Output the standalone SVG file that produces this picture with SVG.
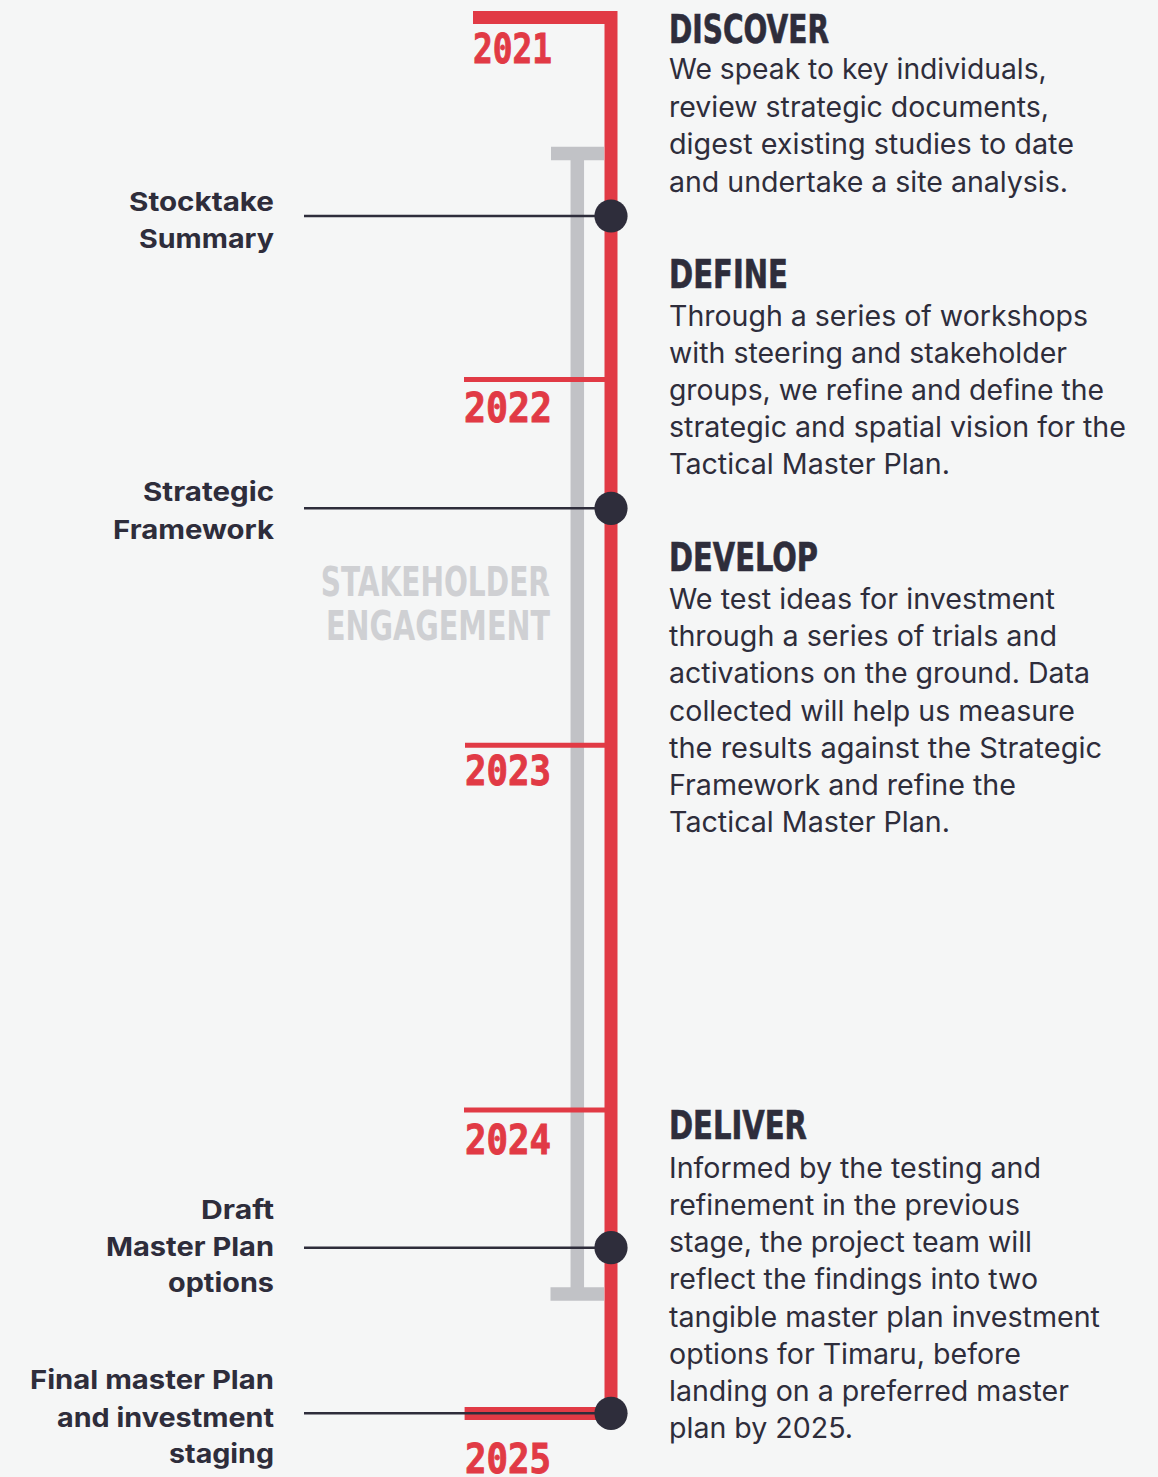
<svg xmlns="http://www.w3.org/2000/svg" width="1158" height="1477" viewBox="0 0 1158 1477">
<defs>
<style>
.bg{fill:#f5f6f6}
.spine{fill:none;stroke:#e13a45;stroke-width:13;stroke-linejoin:miter}
.tick{stroke:#e13a45;stroke-width:5}
.year{font-family:"DejaVu Sans Mono","Liberation Mono",monospace;font-weight:bold;font-size:41px;fill:#e13a45;stroke:#e13a45;stroke-width:0.9}
.gray{fill:none;stroke:#c1c2c6;stroke-width:13.5}
.eng{font-family:"DejaVu Sans Condensed","DejaVu Sans",sans-serif;font-weight:bold;font-size:40px;fill:#cfd0d3}
.head{font-family:"DejaVu Sans Condensed","DejaVu Sans",sans-serif;font-weight:bold;font-size:39px;fill:#2e2d3b;stroke:#2e2d3b;stroke-width:0.6}
.body{font-family:Inter,"Liberation Sans",sans-serif;font-size:28px;fill:#2e2d3b}
.lab{font-family:Inter,"Liberation Sans",sans-serif;font-weight:bold;font-size:26px;fill:#2e2d3b}
.conn{stroke:#2e2d3b;stroke-width:2.4}
.dot{fill:#2e2d3b}
</style>
</defs>
<rect class="bg" x="0" y="0" width="1158" height="1477"/>

<g id="engagement">
<path class="gray" d="M551 153.5 H604 M577.3 153.5 V1294 M550.5 1294 H604"/>
<text class="eng" x="320.7" y="596" textLength="229.3" lengthAdjust="spacingAndGlyphs">STAKEHOLDER</text>
<text class="eng" x="326" y="640" textLength="224" lengthAdjust="spacingAndGlyphs">ENGAGEMENT</text>
</g>

<g id="timeline">
<path class="spine" d="M473 17.5 H611 V1413.4 H464.6"/>
<line class="tick" x1="464" y1="379.4" x2="605" y2="379.4"/>
<line class="tick" x1="465" y1="745.2" x2="605" y2="745.2"/>
<line class="tick" x1="464" y1="1110" x2="605" y2="1110"/>
<text class="year" x="473" y="63" textLength="79" lengthAdjust="spacingAndGlyphs">2021</text>
<text class="year" x="464" y="421.7" textLength="88" lengthAdjust="spacingAndGlyphs">2022</text>
<text class="year" x="465" y="785" textLength="86" lengthAdjust="spacingAndGlyphs">2023</text>
<text class="year" x="465" y="1154" textLength="86" lengthAdjust="spacingAndGlyphs">2024</text>
<text class="year" x="465" y="1473" textLength="86" lengthAdjust="spacingAndGlyphs">2025</text>
</g>

<g id="connectors">
<line class="conn" x1="304" y1="216" x2="600" y2="216"/>
<line class="conn" x1="304" y1="508.3" x2="600" y2="508.3"/>
<line class="conn" x1="304" y1="1247.7" x2="600" y2="1247.7"/>
<line class="conn" x1="304" y1="1413.3" x2="600" y2="1413.3"/>
</g>

<g id="milestone-stocktake">
<circle class="dot" cx="611" cy="216" r="16.6"/>
<text class="lab" x="129" y="210.5" textLength="145" lengthAdjust="spacingAndGlyphs">Stocktake</text>
<text class="lab" x="139" y="248" textLength="135" lengthAdjust="spacingAndGlyphs">Summary</text>
</g>

<g id="milestone-strategic">
<circle class="dot" cx="611" cy="508.3" r="16.6"/>
<text class="lab" x="143" y="501" textLength="131" lengthAdjust="spacingAndGlyphs">Strategic</text>
<text class="lab" x="113" y="538.5" textLength="161" lengthAdjust="spacingAndGlyphs">Framework</text>
</g>

<g id="milestone-draft">
<circle class="dot" cx="611" cy="1247.7" r="16.6"/>
<text class="lab" x="201" y="1219.3" textLength="73" lengthAdjust="spacingAndGlyphs">Draft</text>
<text class="lab" x="106" y="1256" textLength="168" lengthAdjust="spacingAndGlyphs">Master Plan</text>
<text class="lab" x="168" y="1292" textLength="106" lengthAdjust="spacingAndGlyphs">options</text>
</g>

<g id="milestone-final">
<circle class="dot" cx="611" cy="1413.3" r="16.6"/>
<text class="lab" x="30" y="1389.3" textLength="244" lengthAdjust="spacingAndGlyphs">Final master Plan</text>
<text class="lab" x="57" y="1426.7" textLength="217" lengthAdjust="spacingAndGlyphs">and investment</text>
<text class="lab" x="169" y="1463.3" textLength="105" lengthAdjust="spacingAndGlyphs">staging</text>
</g>

<g id="phase-discover">
<text class="head" x="669" y="42.7" textLength="160" lengthAdjust="spacingAndGlyphs">DISCOVER</text>
<text class="body" x="669" y="79.3" textLength="377.7" lengthAdjust="spacingAndGlyphs">We speak to key individuals,</text>
<text class="body" x="669" y="117" textLength="380" lengthAdjust="spacingAndGlyphs">review strategic documents,</text>
<text class="body" x="669" y="154.3" textLength="405" lengthAdjust="spacingAndGlyphs">digest existing studies to date</text>
<text class="body" x="669" y="191.5" textLength="399" lengthAdjust="spacingAndGlyphs">and undertake a site analysis.</text>
</g>

<g id="phase-define">
<text class="head" x="669" y="287.7" textLength="119" lengthAdjust="spacingAndGlyphs">DEFINE</text>
<text class="body" x="669" y="326" textLength="419" lengthAdjust="spacingAndGlyphs">Through a series of workshops</text>
<text class="body" x="669" y="362.5" textLength="398" lengthAdjust="spacingAndGlyphs">with steering and stakeholder</text>
<text class="body" x="669" y="399.8" textLength="435" lengthAdjust="spacingAndGlyphs">groups, we refine and define the</text>
<text class="body" x="669" y="437" textLength="457" lengthAdjust="spacingAndGlyphs">strategic and spatial vision for the</text>
<text class="body" x="669" y="474" textLength="281" lengthAdjust="spacingAndGlyphs">Tactical Master Plan.</text>
</g>

<g id="phase-develop">
<text class="head" x="669" y="570.7" textLength="149" lengthAdjust="spacingAndGlyphs">DEVELOP</text>
<text class="body" x="669" y="608.8" textLength="386" lengthAdjust="spacingAndGlyphs">We test ideas for investment</text>
<text class="body" x="669" y="646" textLength="388" lengthAdjust="spacingAndGlyphs">through a series of trials and</text>
<text class="body" x="669" y="683" textLength="421" lengthAdjust="spacingAndGlyphs">activations on the ground. Data</text>
<text class="body" x="669" y="720.5" textLength="406" lengthAdjust="spacingAndGlyphs">collected will help us measure</text>
<text class="body" x="669" y="757.7" textLength="433" lengthAdjust="spacingAndGlyphs">the results against the Strategic</text>
<text class="body" x="669" y="794.5" textLength="347" lengthAdjust="spacingAndGlyphs">Framework and refine the</text>
<text class="body" x="669" y="832" textLength="281" lengthAdjust="spacingAndGlyphs">Tactical Master Plan.</text>
</g>

<g id="phase-deliver">
<text class="head" x="669" y="1139.3" textLength="138" lengthAdjust="spacingAndGlyphs">DELIVER</text>
<text class="body" x="669" y="1177.8" textLength="372" lengthAdjust="spacingAndGlyphs">Informed by the testing and</text>
<text class="body" x="669" y="1214.8" textLength="351" lengthAdjust="spacingAndGlyphs">refinement in the previous</text>
<text class="body" x="669" y="1252" textLength="363" lengthAdjust="spacingAndGlyphs">stage, the project team will</text>
<text class="body" x="669" y="1289.3" textLength="369" lengthAdjust="spacingAndGlyphs">reflect the findings into two</text>
<text class="body" x="669" y="1326.5" textLength="431" lengthAdjust="spacingAndGlyphs">tangible master plan investment</text>
<text class="body" x="669" y="1363.8" textLength="352" lengthAdjust="spacingAndGlyphs">options for Timaru, before</text>
<text class="body" x="669" y="1401" textLength="400" lengthAdjust="spacingAndGlyphs">landing on a preferred master</text>
<text class="body" x="669" y="1438.3" textLength="184" lengthAdjust="spacingAndGlyphs">plan by 2025.</text>
</g>
</svg>
